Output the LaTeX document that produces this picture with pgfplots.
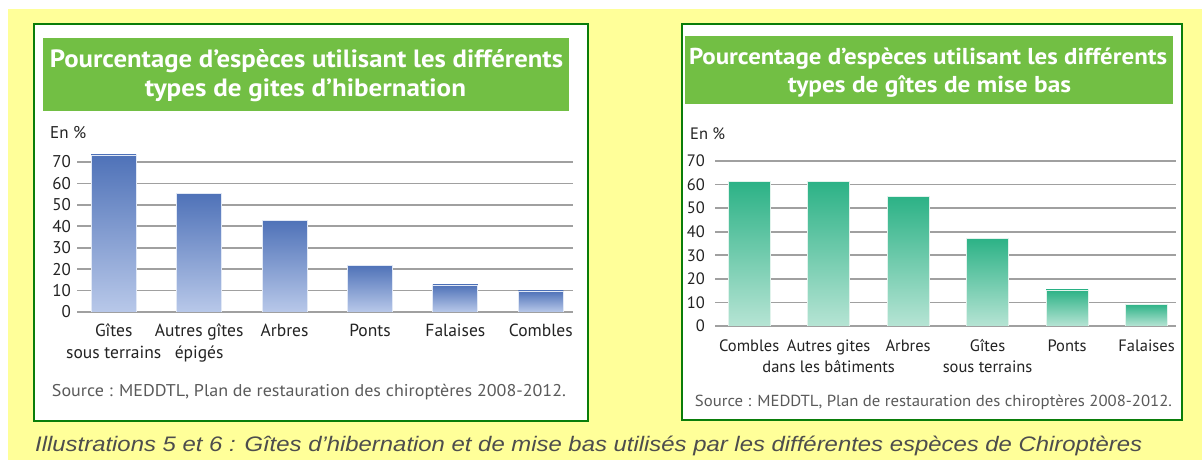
\documentclass[border=0pt]{standalone}
\usepackage{pgfplots}
\pgfplotsset{compat=1.18}
\usepackage{fontspec}
\usepackage{graphicx}
\setmainfont{PT Sans}
\newfontfamily\capfont{Liberation Sans}
\definecolor{bgyellow}{RGB}{255,255,153}
\definecolor{framegreen}{RGB}{10,125,10}
\definecolor{titlegreen}{RGB}{114,191,68}
\definecolor{blueTop}{RGB}{79,114,184}
\definecolor{blueBot}{RGB}{184,200,233}
\definecolor{blueEdge}{RGB}{225,232,245}
\definecolor{tealTop}{RGB}{44,178,134}
\definecolor{tealBot}{RGB}{182,228,212}
\definecolor{tealEdge}{RGB}{225,243,236}
\definecolor{gridgray}{RGB}{160,160,160}
\definecolor{txt}{RGB}{35,35,35}
\definecolor{srcgray}{RGB}{90,90,90}
\definecolor{capgray}{RGB}{77,77,77}
\newcommand{\fs}[2]{\fontsize{#1bp}{#2bp}\selectfont}
\pgfplotsset{
  bluebar/.style={ybar, bar shift=0pt, bar width=45bp, draw=blueEdge, line width=0.8bp, top color=blueTop, bottom color=blueBot},
  tealbar/.style={ybar, bar shift=0pt, bar width=42bp, draw=tealEdge, line width=0.8bp, top color=tealTop, bottom color=tealBot},
}
\begin{document}
\begin{tikzpicture}[x=1bp,y=1bp]
\path[use as bounding box] (0,0) rectangle (1202,460);
\fill[white] (0,0) rectangle (1202,460);
\fill[bgyellow] (8,0) rectangle (1202,451);
% ---------- left panel ----------
\draw[framegreen, line width=2.5bp, fill=white] (34,39) rectangle (588,436);
\fill[titlegreen] (43,349) rectangle (569,422);
\node[anchor=base, inner sep=0pt, text=white] at (306.5,392) {\fs{25}{30}\bfseries\resizebox{513bp}{\height}{Pourcentage d'espèces utilisant les différents}};
\node[anchor=base, inner sep=0pt, text=white] at (305.5,363) {\fs{25}{30}\bfseries\resizebox{321bp}{\height}{types de gites d'hibernation}};
\node[anchor=base west, inner sep=0pt, text=txt] at (50,321) {\fs{17}{20}En \%};
\begin{axis}[
  at={(77bp,148bp)}, anchor=south west,
  scale only axis, width=496bp, height=160.7bp,
  xmin=-0.43, xmax=5.377, ymin=0, ymax=75,
  ytick={0,10,...,70}, xtick={0,...,5},
  xticklabels={{\strut Gîtes\\sous terrains},{\strut Autres gîtes\\épigés},{\strut Arbres},{\strut Ponts},{\strut Falaises},{\strut Combles}},
  ymajorgrids, grid style={gridgray, line width=1.6bp},
  axis line style={draw=none}, major tick length=0pt,
  /pgf/number format/assume math mode=true,
  yticklabel style={anchor=east, inner sep=0pt, xshift=-6bp, text=txt, font=\fs{17}{20}},
  xticklabel style={anchor=north, inner sep=0pt, yshift=-8.6bp, align=center, text=txt, font=\fs{17.5}{22}},
]
\addplot[bluebar] coordinates {(0,73.3)};
\addplot[bluebar] coordinates {(1,55.4)};
\addplot[bluebar] coordinates {(2,42.9)};
\addplot[bluebar] coordinates {(3,21.9)};
\addplot[bluebar] coordinates {(4,12.6)};
\addplot[bluebar] coordinates {(5,9.8)};
\end{axis}
\node[anchor=base, inner sep=0pt, text=srcgray] at (309,63) {\fs{17}{20}\resizebox{514bp}{\height}{Source : MEDDTL, Plan de restauration des chiroptères 2008-2012.}};
% ---------- right panel ----------
\draw[framegreen, line width=2.5bp, fill=white] (682,40) rectangle (1182,436);
\fill[titlegreen] (684.5,356) rectangle (1172.7,424);
\node[anchor=base, inner sep=0pt, text=white] at (928,395) {\fs{23}{28}\bfseries\resizebox{478bp}{\height}{Pourcentage d'espèces utilisant les différents}};
\node[anchor=base, inner sep=0pt, text=white] at (929.5,367) {\fs{23}{28}\bfseries\resizebox{283bp}{\height}{types de gîtes de mise bas}};
\node[anchor=base west, inner sep=0pt, text=txt] at (690,320) {\fs{16.5}{20}En \%};
\begin{axis}[
  at={(715bp,134bp)}, anchor=south west,
  scale only axis, width=461bp, height=176.8bp,
  xmin=-0.43, xmax=5.371, ymin=0, ymax=75,
  ytick={0,10,...,70}, xtick={0,...,5},
  xticklabels={{\strut Combles},{\strut Autres gites\\dans les bâtiments},{\strut Arbres},{\strut Gîtes\\sous terrains},{\strut Ponts},{\strut Falaises}},
  ymajorgrids, grid style={gridgray, line width=1.6bp},
  axis line style={draw=none}, major tick length=0pt,
  /pgf/number format/assume math mode=true,
  yticklabel style={anchor=east, inner sep=0pt, xshift=-10bp, text=txt, font=\fs{16.5}{20}},
  xticklabel style={anchor=north, inner sep=0pt, yshift=-10.3bp, align=center, text=txt, font=\fs{16.5}{21}},
]
\addplot[tealbar] coordinates {(0,61.2)};
\addplot[tealbar] coordinates {(1,61.2)};
\addplot[tealbar] coordinates {(2,54.9)};
\addplot[tealbar] coordinates {(3,37.2)};
\addplot[tealbar] coordinates {(4,15.3)};
\addplot[tealbar] coordinates {(5,9.3)};
\end{axis}
\node[anchor=base, inner sep=0pt, text=srcgray] at (933.5,53) {\fs{16}{20}\resizebox{477bp}{\height}{Source : MEDDTL, Plan de restauration des chiroptères 2008-2012.}};
% ---------- caption ----------
\node[anchor=base west, inner sep=0pt, text=capgray] at (35,8) {\capfont\itshape\fs{21}{25}\resizebox{1107bp}{\height}{Illustrations 5 et 6 : Gîtes d’hibernation et de mise bas utilisés par les différentes espèces de Chiroptères}};
\end{tikzpicture}
\end{document}
